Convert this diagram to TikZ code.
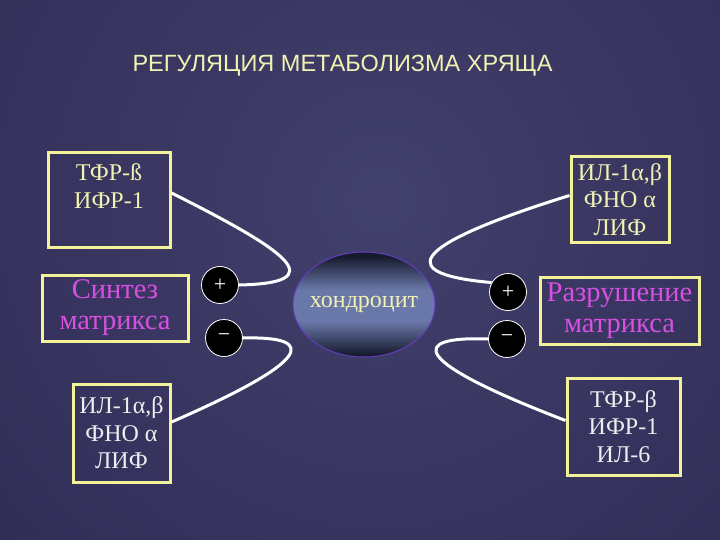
\documentclass[tikz,border=0pt]{standalone}
\usepackage{fontspec}
\setmainfont{Liberation Serif}
\newfontfamily\headfont{Liberation Sans}
\usetikzlibrary{shapes.geometric}
\definecolor{bgdark}{RGB}{38,36,76}
\definecolor{bglight}{RGB}{66,64,108}
\definecolor{boxrim}{RGB}{242,242,155}
\definecolor{txtyellow}{RGB}{242,242,178}
\definecolor{txtwhite}{RGB}{238,238,238}
\definecolor{txtmagenta}{RGB}{215,80,225}
\definecolor{celldark}{RGB}{22,26,45}
\definecolor{celllight}{RGB}{105,120,168}
\definecolor{cellrim}{RGB}{100,60,190}
\pgfdeclareverticalshading{cellshade}{100bp}{color(0bp)=(celldark); color(26bp)=(celldark); color(42bp)=(celllight); color(57bp)=(celllight); color(73bp)=(celldark); color(100bp)=(celldark)}
\tikzset{
  factor/.style={draw=boxrim,line width=3pt,align=center,inner sep=0pt,font=\fontsize{24}{27.5}\selectfont},
  effect/.style={factor,text=txtmagenta,font=\fontsize{28.5}{31}\selectfont},
  sign/.style={circle,draw=white,line width=0.8pt,fill=black,text=white,minimum size=37pt,inner sep=0pt,font=\fontsize{22}{22}\selectfont},
  link/.style={white,line width=3pt},
}
\begin{document}
\begin{tikzpicture}[x=1pt,y=-1pt]
\useasboundingbox (0,0) rectangle (720,540);
\begin{scope}
\clip (0,0) rectangle (720,540);
\fill[bgdark] (0,0) rectangle (720,540);
\shade[inner color=bglight,outer color=bgdark] (380,200) circle (800pt);
\end{scope}
\node[text=txtyellow,font=\headfont\fontsize{23.5}{28}\selectfont] (title) at (342.5,66) {РЕГУЛЯЦИЯ МЕТАБОЛИЗМА ХРЯЩА};
\node[factor,text=txtyellow,minimum width=122pt,minimum height=94pt] (tfr) at (109,200) {ТФР-ß\\ИФР-1\\\mbox{}};
\node[effect,minimum width=146pt,minimum height=66pt] (synth) at (115,308) {Синтез\\матрикса};
\node[factor,text=txtwhite,minimum width=97pt,minimum height=98pt] (il) at (121.5,433) {ИЛ-1α,β\\ФНО α\\ЛИФ};
\node[factor,text=txtyellow,minimum width=98pt,minimum height=85pt] (ilr) at (620,199.5) {ИЛ-1α,β\\ФНО α\\ЛИФ};
\node[effect,minimum width=159pt,minimum height=67pt] (destr) at (619.5,310.5) {Разрушение\\матрикса};
\node[factor,text=txtwhite,minimum width=113pt,minimum height=97pt] (tfrr) at (623.5,426.5) {ТФР-β\\ИФР-1\\ИЛ-6};
\node[ellipse,shading=cellshade,draw=cellrim,line width=1pt,inner xsep=-12pt,inner ysep=0pt,minimum width=142pt,minimum height=105pt,text=txtyellow,font=\fontsize{24}{24}\selectfont] (cell) at (364,304.5) {хондроцит};
\node[sign] (plusl) at (220,285) {+};
\node[sign] (minusl) at (224,338) {−};
\node[sign] (plusr) at (508,292) {+};
\node[sign] (minusr) at (507,339) {−};
\draw[link] ([yshift=7pt]tfr.east) .. controls +(120,60) and +(92,-2) .. (plusl.east);
\draw[link] (minusl.east) .. controls +(78,-2) and +(138,-60) .. ([yshift=11pt]il.east);
\draw[link] (plusr.150) .. controls +(-92,-8) and +(-170,53) .. ([yshift=4pt]ilr.west);
\draw[link] (minusr.west) .. controls +(-79,-3) and +(-157,-60) .. ([yshift=6pt]tfrr.west);
\end{tikzpicture}
\end{document}
